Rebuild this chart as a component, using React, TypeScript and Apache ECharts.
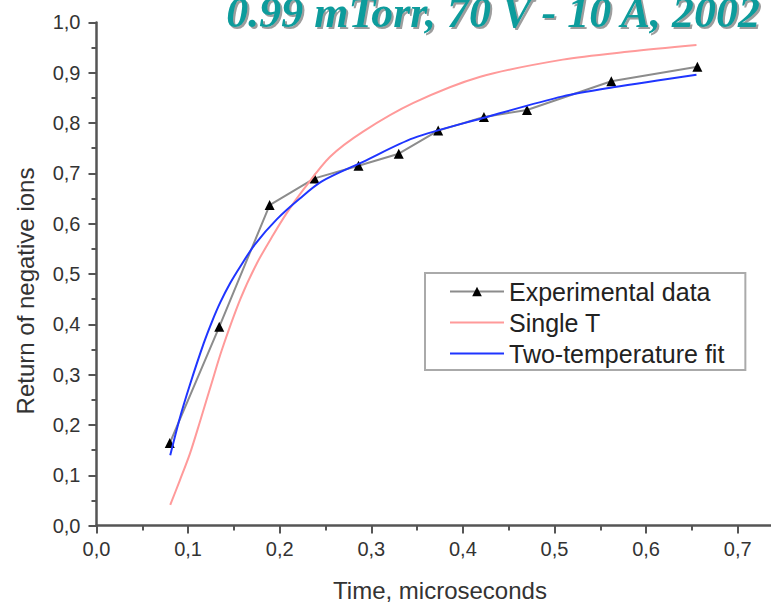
import React, { useEffect, useRef } from "react";
import * as echarts from "echarts";

// Experimental data (time in microseconds, return of negative ions)
const expTime = [0.080, 0.134, 0.189, 0.238, 0.286, 0.330, 0.373, 0.423, 0.470, 0.562, 0.656];
const expReturn = [0.164, 0.395, 0.637, 0.690, 0.715, 0.739, 0.785, 0.812, 0.826, 0.883, 0.912];

// Single T fit curve
const singleTTime = [0.0805, 0.091, 0.102, 0.113, 0.126, 0.137, 0.157, 0.175, 0.193, 0.208, 0.226, 0.255, 0.291, 0.346, 0.419, 0.509, 0.582, 0.655];
const singleTReturn = [0.041, 0.090, 0.143, 0.207, 0.285, 0.350, 0.450, 0.521, 0.578, 0.622, 0.668, 0.733, 0.783, 0.840, 0.892, 0.926, 0.942, 0.955];

// Two-temperature fit curve
const twoTTime = [0.0805, 0.091, 0.102, 0.117, 0.126, 0.135, 0.146, 0.157, 0.173, 0.197, 0.222, 0.246, 0.291, 0.346, 0.422, 0.509, 0.564, 0.655];
const twoTReturn = [0.140, 0.214, 0.280, 0.362, 0.405, 0.443, 0.482, 0.515, 0.559, 0.609, 0.650, 0.684, 0.723, 0.770, 0.810, 0.853, 0.871, 0.896];

const xTicks = { min: 0, max: 0.8, interval: 0.1 };
const yTicks = { min: 0, max: 1, interval: 0.1 };

const titleText = "0.99 mTorr, 70 V - 10 A, 2002";
const xName = "Time, microseconds";
const yName = "Return of negative ions";
const seriesNames = ["Experimental data", "Single T", "Two-temperature fit"];

const zip = (xs: number[], ys: number[]) => xs.map((x, i) => [x, ys[i]]);
const fmt = (v: number) => (v > 0.75 ? "" : v.toFixed(1).replace(".", ","));

export default function App() {
  const ref = useRef<HTMLDivElement>(null);
  useEffect(() => {
    if (!ref.current) return;
    const chart = echarts.init(ref.current, undefined, { renderer: "svg" });
    const axisColor = "#555";
    const labelFont = "Liberation Sans, Arial, sans-serif";
    const hiddenSymbol = { color: "rgba(0,0,0,0)", borderWidth: 0, opacity: 0 };
    chart.setOption({
      animation: false,
      backgroundColor: "#fff",
      grid: { left: 96.5, top: 22.4, width: 732.8, height: 503.2, outerBoundsMode: "none" },
      xAxis: {
        type: "value",
        min: xTicks.min,
        max: xTicks.max,
        interval: xTicks.interval,
        axisLine: { show: true, onZero: false, lineStyle: { color: axisColor, width: 2.5 } },
        axisTick: { show: true, length: 8, lineStyle: { color: axisColor, width: 2 } },
        minorTick: { show: true, splitNumber: 2, length: 5, lineStyle: { color: axisColor, width: 2 } },
        splitLine: { show: false },
        axisLabel: { formatter: fmt, showMaxLabel: false, fontSize: 20, color: "#333", margin: 13, fontFamily: labelFont },
      },
      yAxis: {
        type: "value",
        min: yTicks.min,
        max: yTicks.max,
        interval: yTicks.interval,
        axisLine: { show: true, onZero: false, lineStyle: { color: axisColor, width: 2.5 } },
        axisTick: { show: true, length: 8, lineStyle: { color: axisColor, width: 2 } },
        minorTick: { show: true, splitNumber: 2, length: 5, lineStyle: { color: axisColor, width: 2 } },
        splitLine: { show: false },
        axisLabel: { formatter: (v: number) => v.toFixed(1).replace(".", ","), fontSize: 20, color: "#333", margin: 16, fontFamily: labelFont },
      },
      legend: {
        orient: "vertical",
        left: 425,
        top: 273,
        padding: [6, 21, 4, 24],
        itemWidth: 54,
        itemHeight: 12,
        itemGap: 6,
        borderColor: "#aaa",
        borderWidth: 2,
        backgroundColor: "#fff",
        textStyle: { fontSize: 25, lineHeight: 24, color: "#222", fontFamily: labelFont },
        data: [
          { name: seriesNames[0] },
          { name: seriesNames[1], itemStyle: hiddenSymbol },
          { name: seriesNames[2], itemStyle: hiddenSymbol },
        ],
      },
      graphic: [
        {
          type: "text",
          x: 760,
          y: 34,
          style: {
            text: titleText,
            align: "right",
            verticalAlign: "bottom",
            fontSize: 44,
            fontWeight: "bold",
            fontStyle: "italic",
            fontFamily: "Liberation Serif, Times New Roman, serif",
            fill: "#0e9c9c",
            textShadowColor: "rgba(90,90,90,0.6)",
            textShadowOffsetX: 2,
            textShadowOffsetY: 2,
            textShadowBlur: 1,
          },
        },
        {
          type: "text",
          x: 440,
          y: 590,
          style: { text: xName, align: "center", verticalAlign: "middle", fontSize: 24, fill: "#333", fontFamily: labelFont },
        },
        {
          type: "text",
          x: 25,
          y: 291,
          rotation: Math.PI / 2,
          style: { text: yName, align: "center", verticalAlign: "middle", fontSize: 24, fill: "#333", fontFamily: labelFont },
        },
      ],
      series: [
        {
          name: seriesNames[0],
          type: "line",
          data: zip(expTime, expReturn),
          symbol: "triangle",
          symbolSize: 10,
          itemStyle: { color: "#000" },
          lineStyle: { color: "#8c8c8c", width: 2 },
          z: 2,
        },
        {
          name: seriesNames[1],
          type: "line",
          data: zip(singleTTime, singleTReturn),
          symbol: "none",
          smooth: 0.3,
          itemStyle: { color: "#ff9a9a" },
          lineStyle: { color: "#ff9a9a", width: 2 },
          z: 3,
        },
        {
          name: seriesNames[2],
          type: "line",
          data: zip(twoTTime, twoTReturn),
          symbol: "none",
          smooth: 0.3,
          itemStyle: { color: "#1f35ff" },
          lineStyle: { color: "#1f35ff", width: 2 },
          z: 4,
        },
      ],
    });
    return () => chart.dispose();
  }, []);
  return (
    <div
      ref={ref}
      style={{ position: "fixed", left: 0, top: 0, width: 771, height: 602, overflow: "hidden" }}
    />
  );
}
